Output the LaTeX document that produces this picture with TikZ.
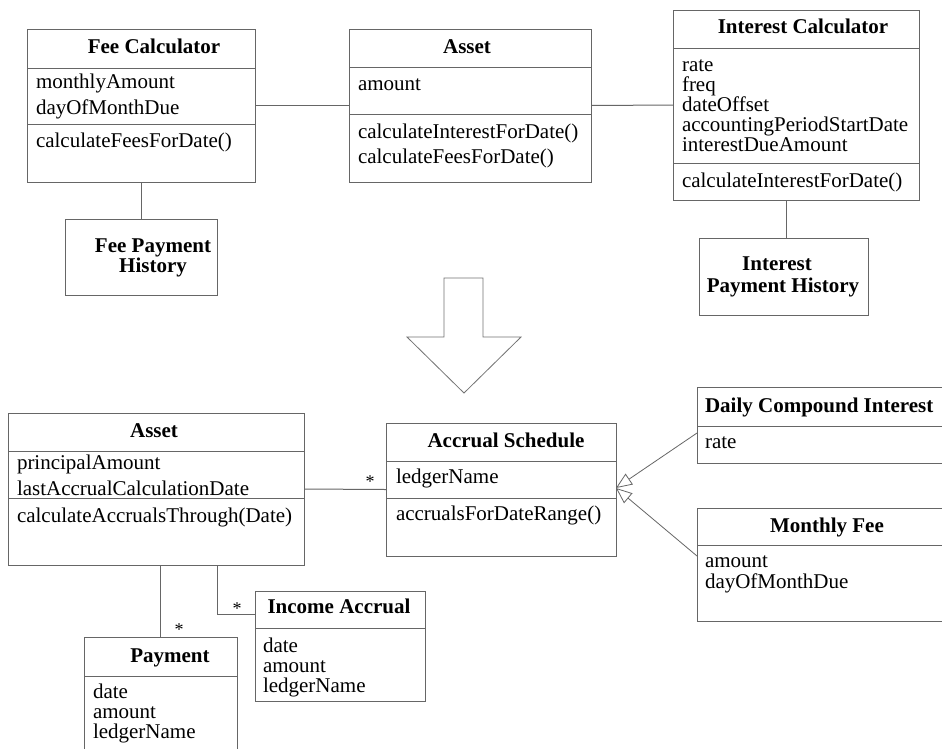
\documentclass[tikz,border=0pt]{standalone}
\usepackage{fontspec}
\setmainfont{Liberation Serif}
\usetikzlibrary{arrows.meta}
\tikzset{
  box/.style={draw=black!60, line width=1pt, inner sep=0, outer sep=0, anchor=north west, fill=white},
  sep/.style={draw=black!60, line width=1pt},
  conn/.style={draw=black!60, line width=1pt},
  gen/.style={draw=black!60, line width=0.8pt, -{Triangle[open, length=16pt, width=13pt]}},
  txt/.style={inner sep=0, outer sep=0, anchor=base west, font=\fontsize{21}{20}\selectfont},
  ttl/.style={inner sep=0, outer sep=0, anchor=base, font=\fontsize{21}{20}\selectfont\bfseries},
  star/.style={inner sep=0, outer sep=0, font=\fontsize{18}{18}\selectfont}
}
\begin{document}
\begin{tikzpicture}[x=1pt,y=-1pt]
\useasboundingbox (0,0) rectangle (942,748);
\clip (0,0) rectangle (942,748);
\fill[white] (0,0) rectangle (942,748);

% ---------- top: Fee Calculator ----------
\node[box, minimum width=228, minimum height=153] (fc) at (27,29) {};
\draw[sep] (27,68) -- (255,68);
\draw[sep] (27,124) -- (255,124);
\node[ttl] (fct) at (154,53) {Fee Calculator};
\node[txt] (fc1) at (36,88) {monthlyAmount};
\node[txt] (fc2) at (36,114) {dayOfMonthDue};
\node[txt] (fc3) at (36,147) {calculateFeesForDate()};

\node[box, minimum width=152, minimum height=76] (fph) at (65,219) {};
\node[ttl] (fph1) at (153,252) {Fee Payment};
\node[ttl] (fph2) at (153,272) {History};

% ---------- top: Asset ----------
\node[box, minimum width=242, minimum height=153] (as1) at (349,29) {};
\draw[sep] (349,67) -- (591,67);
\draw[sep] (349,114) -- (591,114);
\node[ttl] (as1t) at (467,53) {Asset};
\node[txt] (as11) at (358,90) {amount};
\node[txt] (as12) at (358,138) {calculateInterestForDate()};
\node[txt] (as13) at (358,163) {calculateFeesForDate()};

% ---------- top: Interest Calculator ----------
\node[box, minimum width=246, minimum height=190] (ic) at (673,10) {};
\draw[sep] (673,48) -- (919,48);
\draw[sep] (673,163) -- (919,163);
\node[ttl] (ict) at (803,33) {Interest Calculator};
\node[txt] (ic1) at (682,71) {rate};
\node[txt] (ic2) at (682,91) {freq};
\node[txt] (ic3) at (682,111) {dateOffset};
\node[txt] (ic4) at (682,131) {accountingPeriodStartDate};
\node[txt] (ic5) at (682,151) {interestDueAmount};
\node[txt] (ic6) at (682,187) {calculateInterestForDate()};

\node[box, minimum width=169, minimum height=77] (iph) at (699,238) {};
\node[ttl] (iph1) at (777,270) {Interest};
\node[ttl] (iph2) at (783,292) {Payment History};

% top connectors
\draw[conn] (fc.east) -- (as1.west);
\draw[conn] (as1.east) -- (ic.west);
\draw[conn] (fph.north) -- (fph.north |- fc.south);
\coordinate (icb) at (786,200);
\draw[conn] (icb) -- (icb |- iph.north);

% ---------- big arrow ----------
\draw[draw=black!55, line width=0.8pt, fill=white]
  (444,278) -- (483,278) -- (483,337) -- (521,337) -- (464,393) -- (407,337) -- (444,337) -- cycle;

% ---------- bottom: Asset ----------
\node[box, minimum width=296, minimum height=152] (as2) at (8,413) {};
\draw[sep] (8,451) -- (304,451);
\draw[sep] (8,498) -- (304,498);
\node[ttl] (as2t) at (154,437) {Asset};
\node[txt] (as21) at (17,469) {principalAmount};
\node[txt] (as22) at (17,495) {lastAccrualCalculationDate};
\node[txt] (as23) at (17,522) {calculateAccrualsThrough(Date)};

% ---------- Accrual Schedule ----------
\node[box, minimum width=230, minimum height=133] (acs) at (386,423) {};
\draw[sep] (386,461) -- (616,461);
\draw[sep] (386,498) -- (616,498);
\node[ttl] (acst) at (506,447) {Accrual Schedule};
\node[txt] (acs1) at (396,483) {ledgerName};
\node[txt] (acs2) at (396,520) {accrualsForDateRange()};

% ---------- Daily Compound Interest ----------
\node[box, minimum width=300, minimum height=76] (dci) at (697,387) {};
\draw[sep] (697,426) -- (997,426);
\node[txt, font=\fontsize{21}{20}\selectfont\bfseries] (dcit) at (705,412) {Daily Compound Interest};
\node[txt] (dci1) at (705,448) {rate};

% ---------- Monthly Fee ----------
\node[box, minimum width=300, minimum height=113] (mf) at (697,508) {};
\draw[sep] (697,545) -- (997,545);
\node[ttl] (mft) at (827,532) {Monthly Fee};
\node[txt] (mf1) at (705,567) {amount};
\node[txt] (mf2) at (705,588) {dayOfMonthDue};

% ---------- Income Accrual ----------
\node[box, minimum width=170, minimum height=110] (ia) at (255,591) {};
\draw[sep] (255,628) -- (425,628);
\node[ttl] (iat) at (339,613) {Income Accrual};
\node[txt] (ia1) at (263,652) {date};
\node[txt] (ia2) at (263,672) {amount};
\node[txt] (ia3) at (263,692) {ledgerName};

% ---------- Payment ----------
\node[box, minimum width=153, minimum height=150] (pay) at (84,637) {};
\draw[sep] (84,676) -- (237,676);
\node[ttl] (payt) at (170,662) {Payment};
\node[txt] (pay1) at (93,698) {date};
\node[txt] (pay2) at (93,718) {amount};
\node[txt] (pay3) at (93,738) {ledgerName};

% ---------- bottom connectors ----------
\draw[conn] (as2.east) -- (acs.west);
\node[star] (s1) at (370,482) {*};
\draw[conn] (pay.north) -- (pay.north |- as2.south);
\node[star] (s2) at (179,630) {*};
\coordinate (iab) at (217,565);
\coordinate (iaj) at (217,614);
\draw[conn] (iab) -- (iaj) -- (iaj -| ia.west);
\node[star] (s3) at (237,609) {*};

\coordinate (dcic) at (697,433);
\coordinate (mfc) at (697,556);
\coordinate (tip) at (616,488);
\draw[gen] (dcic) -- (tip);
\draw[gen] (mfc) -- (tip);
\end{tikzpicture}
\end{document}
